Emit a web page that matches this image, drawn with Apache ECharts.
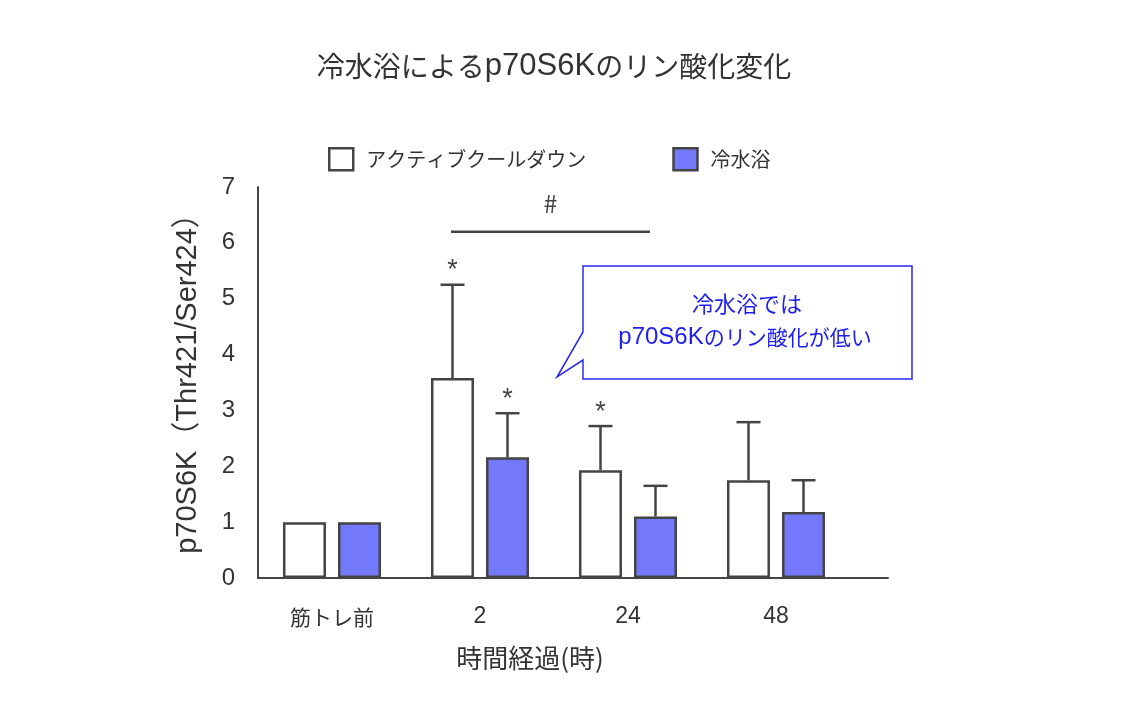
<!DOCTYPE html>
<html>
<head>
<meta charset="utf-8">
<script src="https://cdn.jsdelivr.net/npm/echarts@6/dist/echarts.min.js"></script>
<style>
  html, body { margin: 0; padding: 0; background: #fff; }
  #chart { width: 1128px; height: 712px; }
</style>
</head>
<body>
<div id="chart"></div>
<script>
// データ
const categories = ['筋トレ前', '2', '24', '48'];
const activeMean = [1.0, 3.58, 1.93, 1.75];
const activeErr = [0, 1.67, 0.79, 1.04];
const activeSig = ['', '*', '*', ''];
const coldMean = [1.0, 2.16, 1.10, 1.18];
const coldErr = [0, 0.79, 0.55, 0.57];
const coldSig = ['', '*', '', ''];
// 群間比較（# ）: [開始カテゴリ, 終了カテゴリ, 高さ]
const groupCompare = [[1, 2, 6.2]];

const LATIN = '"Liberation Sans", Arial, sans-serif';
const FONT = '"Liberation Sans", "Noto Sans CJK JP", sans-serif';
const CJK = '"Noto Sans CJK JP", sans-serif';
const LINE = '#444';
const TEXT = '#333';
const BLUE = '#7478fa';
const NOTE = '#2020ee';

const chart = echarts.init(document.getElementById('chart'));

// エラーバー描画（バーの中心からのずれ offset）
const errorSeries = (name, mean, err, sig, offset) => ({
  name: name + '_err',
  type: 'custom',
  xAxisIndex: 0,
  yAxisIndex: 0,
  z: 5,
  data: mean.map((m, i) => [i, m, m + err[i]]),
  renderItem: (params, api) => {
    const i = api.value(0);
    const base = api.coord([i, api.value(1)]);
    const top = api.coord([i, api.value(2)]);
    const x = base[0] + offset;
    const children = [];
    if (api.value(2) > api.value(1)) {
      children.push({
        type: 'line',
        shape: { x1: x, y1: base[1], x2: x, y2: top[1] },
        style: { stroke: LINE, lineWidth: 2.5 }
      });
      children.push({
        type: 'line',
        shape: { x1: x - 12, y1: top[1], x2: x + 12, y2: top[1] },
        style: { stroke: LINE, lineWidth: 2.5 }
      });
    }
    if (sig[i]) {
      children.push({
        type: 'text',
        style: {
          x: x, y: top[1] - 14, text: sig[i], fill: LINE,
          font: '27px ' + LATIN, align: 'center', verticalAlign: 'middle'
        }
      });
    }
    return { type: 'group', children: children };
  }
});

const option = {
  animation: false,
  backgroundColor: '#fff',
  title: {
    text: '{c|冷水浴による}{l|p70S6K}{c|のリン酸化変化}',
    left: 549,
    top: 43,
    textAlign: 'center',
    textStyle: {
      fontWeight: 'normal',
      rich: {
        c: { fontFamily: CJK, fontSize: 28, fontWeight: 'normal', color: TEXT, lineHeight: 36 },
        l: { fontFamily: LATIN, fontSize: 31, fontWeight: 'normal', color: TEXT, lineHeight: 36 }
      }
    }
  },
  legend: {
    data: ['アクティブクールダウン', '冷水浴'],
    left: 323,
    top: 142,
    icon: 'rect',
    itemWidth: 24,
    itemHeight: 22,
    itemGap: 86,
    itemStyle: { borderColor: LINE, borderWidth: 2.5 },
    textStyle: { fontFamily: CJK, fontSize: 20, color: TEXT, padding: [0, 0, 0, 8] }
  },
  grid: [
    { left: 258, top: 187, width: 592, height: 391 },
    { left: 258, top: 187, width: 630, height: 391 }
  ],
  xAxis: [
    {
      type: 'category',
      gridIndex: 0,
      data: categories,
      axisLine: { show: false },
      axisTick: { show: false },
      axisLabel: {
        margin: 26,
        formatter: v => (/^\d+$/.test(v) ? '{n|' + v + '}' : '{c|' + v + '}'),
        rich: {
          n: { fontFamily: LATIN, fontSize: 23, color: TEXT, lineHeight: 26 },
          c: { fontFamily: CJK, fontSize: 21, color: TEXT, lineHeight: 26 }
        }
      },
      name: '時間経過(時)',
      nameLocation: 'middle',
      nameGap: 67,
      nameTextStyle: { fontFamily: CJK, fontSize: 26, color: TEXT, padding: [0, 48, 0, 0] }
    },
    {
      type: 'value',
      gridIndex: 1,
      min: 0,
      max: 1,
      axisLine: { show: true, lineStyle: { color: LINE, width: 2 } },
      axisTick: { show: false },
      axisLabel: { show: false },
      splitLine: { show: false }
    }
  ],
  yAxis: [
    {
      type: 'value',
      gridIndex: 0,
      min: 0,
      max: 7,
      interval: 1,
      axisLine: { show: true, lineStyle: { color: LINE, width: 2 } },
      axisTick: { show: false },
      splitLine: { show: false },
      axisLabel: { fontFamily: LATIN, fontSize: 24, color: TEXT, margin: 23 },
      name: 'p70S6K（Thr421/Ser424）',
      nameLocation: 'middle',
      nameGap: 55,
      nameTextStyle: { fontFamily: FONT, fontSize: 29, color: TEXT, padding: [0, 0, 0, 12] }
    },
    {
      type: 'value',
      gridIndex: 1,
      min: 0,
      max: 7,
      show: false
    }
  ],
  series: [
    {
      name: 'アクティブクールダウン',
      type: 'bar',
      xAxisIndex: 0,
      yAxisIndex: 0,
      barWidth: 43,
      barGap: '28%',
      data: activeMean,
      itemStyle: { color: '#fff', borderColor: LINE, borderWidth: 2.5 }
    },
    {
      name: '冷水浴',
      type: 'bar',
      xAxisIndex: 0,
      yAxisIndex: 0,
      barWidth: 43,
      barGap: '28%',
      data: coldMean,
      itemStyle: { color: BLUE, borderColor: LINE, borderWidth: 2.5 }
    },
    errorSeries('active', activeMean, activeErr, activeSig, -27.5),
    errorSeries('cold', coldMean, coldErr, coldSig, 27.5),
    {
      name: 'compare',
      type: 'custom',
      xAxisIndex: 0,
      yAxisIndex: 0,
      data: groupCompare,
      renderItem: (params, api) => {
        const a = api.coord([api.value(0), api.value(2)]);
        const b = api.coord([api.value(1), api.value(2)]);
        const x1 = a[0] - 29;
        const x2 = b[0] + 22;
        return {
          type: 'group',
          children: [
            {
              type: 'line',
              shape: { x1: x1, y1: a[1], x2: x2, y2: a[1] },
              style: { stroke: LINE, lineWidth: 2.5 }
            },
            {
              type: 'text',
              style: {
                x: (x1 + x2) / 2, y: a[1] - 28, text: '#', fill: LINE,
                font: '25px ' + CJK, align: 'center', verticalAlign: 'middle'
              }
            }
          ]
        };
      }
    }
  ],
  graphic: [
    {
      type: 'polygon',
      shape: {
        points: [[583, 266], [912, 266], [912, 379], [583, 379], [583, 360], [557, 377], [583, 332]]
      },
      style: { fill: '#fff', stroke: '#2a2af0', lineWidth: 1.5 },
      z: 10
    },
    {
      type: 'text',
      x: 747,
      y: 304,
      style: {
        text: '冷水浴では', fill: NOTE, font: '22px ' + CJK,
        align: 'center', verticalAlign: 'middle'
      },
      z: 11
    },
    {
      type: 'text',
      x: 745,
      y: 337,
      style: {
        text: '{l|p70S6K}{c|のリン酸化が低い}',
        align: 'center',
        verticalAlign: 'middle',
        rich: {
          l: { fontFamily: LATIN, fontSize: 24, fill: NOTE, lineHeight: 30 },
          c: { fontFamily: CJK, fontSize: 21, fill: NOTE, lineHeight: 30 }
        }
      },
      z: 11
    }
  ]
};

chart.setOption(option);
</script>
</body>
</html>
